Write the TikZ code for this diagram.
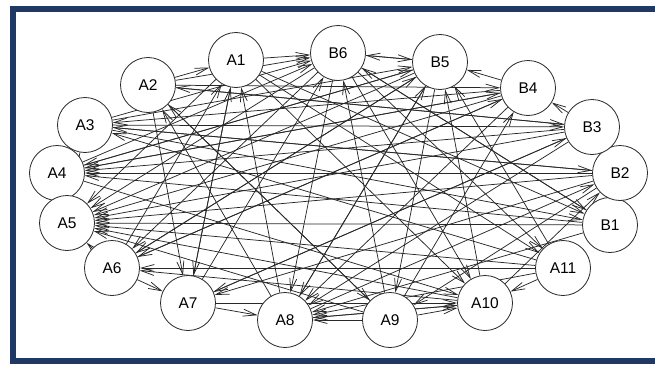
\documentclass[tikz,border=0pt]{standalone}
\usepackage{fontspec}
\setmainfont{Liberation Sans}
\usetikzlibrary{arrows.meta,backgrounds}
\definecolor{framenavy}{RGB}{31,56,100}
\definecolor{edgeink}{RGB}{40,40,40}
\tikzset{
  vtx/.style={circle,draw=edgeink,line width=0.8pt,fill=white,minimum size=55pt,inner sep=0pt,font=\fontsize{15.5}{18}\selectfont},
  edg/.style={draw=edgeink,line width=0.75pt,-{Straight Barb[length=13pt,width=7pt]}}
}
\begin{document}
\begin{tikzpicture}[x=1pt,y=-1pt]
\useasboundingbox (0,0) rectangle (655,364);
\draw[framenavy,line width=6pt] (13,9) rectangle (670,361);
\node[vtx] (A1) at (236,60) {A1};
\node[vtx] (A2) at (148,85) {A2};
\node[vtx] (A3) at (85,125) {A3};
\node[vtx] (A4) at (57,173) {A4};
\node[vtx] (A5) at (67,223) {A5};
\node[vtx] (A6) at (112,268) {A6};
\node[vtx] (A7) at (188,303) {A7};
\node[vtx] (A8) at (285,320) {A8};
\node[vtx] (A9) at (390,320) {A9};
\node[vtx] (A10) at (485,303) {A10};
\node[vtx] (A11) at (563,268) {A11};
\node[vtx] (B1) at (610,225) {B1};
\node[vtx] (B2) at (620,173) {B2};
\node[vtx] (B3) at (592,127) {B3};
\node[vtx] (B4) at (528,88) {B4};
\node[vtx] (B5) at (440,62) {B5};
\node[vtx] (B6) at (338,53) {B6};
\begin{scope}[on background layer]
\foreach \s/\t in {
  A1/B6, A1/A5, A1/A10, A1/A11, A1/B1, A1/A7,
  A2/A1, A2/B6, A2/B4, A2/B3, A2/A7, A2/A9,
  A3/B3, A3/B6, A3/B5, A3/B2, A3/A5, A3/B1,
  A4/B6, A4/B5, A4/B4, A4/A5, A4/A10,
  A6/A7, A6/A5, A6/B5, A6/B4, A6/A1,
  A7/A8, A7/A1, A7/B6, A7/B3, A7/A10,
  A8/A10, A8/A1, A8/B5, A8/B2, A8/A2,
  A9/A8, A9/A10, A9/A5, A9/B6, A9/B4, A9/A2,
  A10/A8, A10/A5, A10/B5, A10/A6, A10/B2,
  A11/A10, A11/A6, A11/A5, A11/B5, A11/A8, A11/A3,
  B1/A5, B1/A8, B1/A4, B1/B6,
  B2/A4, B2/A5, B2/A7, B2/A3, B2/A9,
  B3/B4, B3/A5, B3/A4, B3/A7, B3/A8, B3/A2,
  B4/B5, B4/A5, B4/A6, B4/A8, B4/A3, B4/A4,
  B5/B6, B5/A5, B5/A6, B5/A9, B5/A8, B5/A4,
  B6/B5, B6/A5, B6/A11, B6/A10, B6/A8, B6/B1, B6/A6}
  \draw[edg] (\s) -- (\t);
\end{scope}
\end{tikzpicture}
\end{document}
